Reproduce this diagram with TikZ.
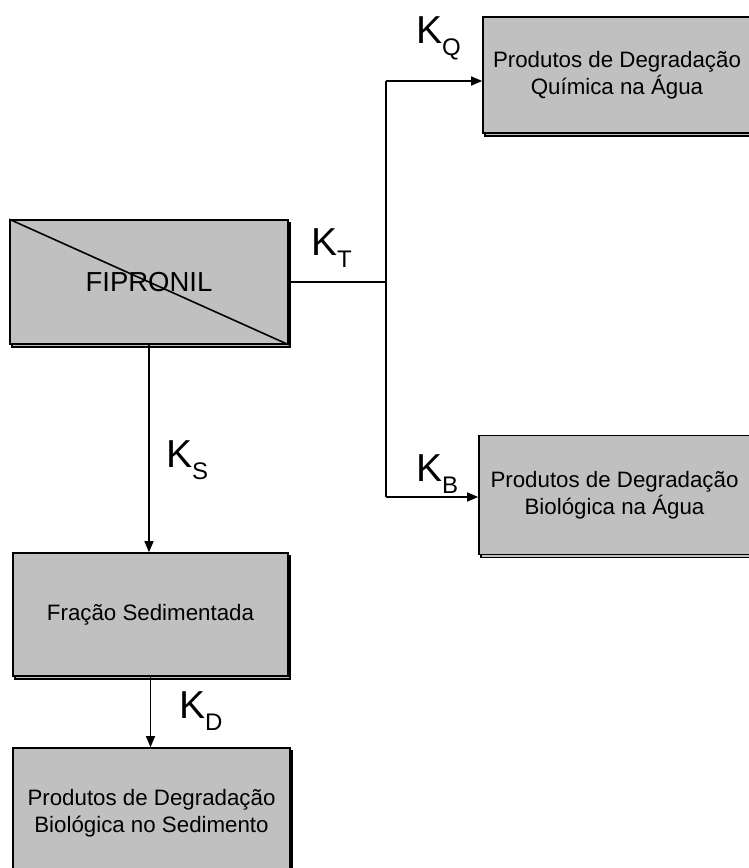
\documentclass[tikz,border=0pt]{standalone}
\usepackage{fontspec}
\setmainfont{Liberation Sans}
\usetikzlibrary{positioning,
        shapes,
        shadows,
        arrows.meta}
\usepackage{xcolor}
\definecolor{boxgray}{RGB}{192,192,192}
\newcommand{\ksub}[1]{K\raisebox{-12pt}{\fontsize{24}{24}\selectfont #1}}

\begin{document}
\begin{tikzpicture}[x=1pt,y=-1pt,
        caixa/.style={rectangle,draw,line width=1.6pt,fill=boxgray,align=center,
                font=\fontsize{22.3}{27}\selectfont,inner sep=0pt,
                copy shadow={shadow xshift=2pt,shadow yshift=-3pt}},
        taxa/.style={anchor=base west,inner sep=0pt,font=\fontsize{39}{39}\selectfont},
        seta/.style={line width=1.3pt,-{Triangle[length=11pt,width=9pt]}}]
        \useasboundingbox (0,0) rectangle (749,868);
        \clip (0,0) rectangle (749,868);
        \node [caixa,minimum width=278,minimum height=124,font=\fontsize{27.5}{27.5}\selectfont] (fip) at (149,282) {FIPRONIL};
        \node [caixa,minimum width=268,minimum height=116] (quim) at (617,75) {Produtos de Degradação\\Química na Água};
        \node [caixa,minimum width=271,minimum height=119] (bio) at (614.5,495) {Produtos de Degradação\\Biológica na Água};
        \node [caixa,minimum width=275,minimum height=123] (frac) at (150.5,614.5) {Fração Sedimentada};
        \node [caixa,minimum width=277,minimum height=130] (sed) at (151.5,813) {Produtos de Degradação\\Biológica no Sedimento};
        \coordinate (split) at (386,282);
        \coordinate (top) at (386,81);
        \coordinate (bot) at (386,497);

        \draw [line width=1.6pt] (fip.north west) -- (fip.south east);
        \draw [line width=1.3pt] (fip.east) -- (split);
        \draw [line width=1.3pt] (top) -- (bot);
        \draw [seta] (top) -- (top -| quim.west);
        \draw [seta] (bot) -- (bot -| bio.west);
        \draw [seta] (fip.south) -- (fip.south |- frac.north);
        \draw [seta] (frac.south) -- (frac.south |- sed.north);

        \node [taxa] (kt) at (311,255) {\ksub{T}};
        \node [taxa] (kq) at (416,43) {\ksub{Q}};
        \node [taxa] (kb) at (416,481) {\ksub{B}};
        \node [taxa] (ks) at (166,467) {\ksub{S}};
        \node [taxa] (kd) at (179,718) {\ksub{D}};
\end{tikzpicture}
\end{document}
